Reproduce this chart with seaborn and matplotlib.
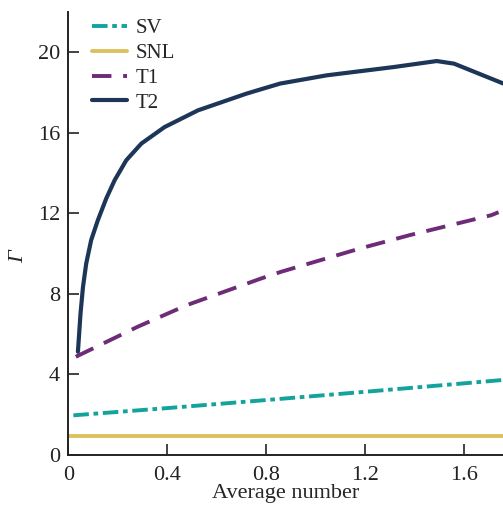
import matplotlib
matplotlib.use("Agg")
import matplotlib.pyplot as plt
import seaborn as sns

# values
sv_x = [0.02, 0.4, 0.8, 1.2, 1.6, 1.76]
sv_y = [1.97, 2.33, 2.73, 3.14, 3.56, 3.73]

snl_x = [0.0, 1.76]
snl_y = [0.93, 0.93]

t1_x = [0.03, 0.28, 0.48, 0.78, 0.86, 1.18, 1.38, 1.71, 1.74]
t1_y = [4.88, 6.37, 7.45, 8.77, 9.1, 10.26, 10.92, 11.91, 12.06]

t2_x = [0.0385, 0.049, 0.059, 0.072, 0.092, 0.119, 0.153, 0.187, 0.234,
        0.295, 0.389, 0.524, 0.72, 0.856, 1.045, 1.315, 1.49, 1.56, 1.76]
t2_y = [5.13, 7.03, 8.35, 9.51, 10.67, 11.66, 12.74, 13.65, 14.64,
        15.47, 16.29, 17.12, 17.95, 18.45, 18.86, 19.27, 19.57, 19.44, 18.45]

sns.set_style("ticks")
plt.rcParams['font.family'] = ['Liberation Serif', 'DejaVu Serif']

fig = plt.figure(figsize=(5.03, 5.05), dpi=100)
ax = fig.add_axes([0.136, 0.099, 0.864, 0.877])

sns.lineplot(x=sv_x, y=sv_y, ax=ax, color='#14a39c', lw=2.8, label='SV',
             linestyle=(0, (4, 1.2, 1.2, 1.2)))
sns.lineplot(x=snl_x, y=snl_y, ax=ax, color='#dcc25e', lw=2.8, label='SNL')
sns.lineplot(x=t1_x, y=t1_y, ax=ax, color='#6e2b78', lw=2.8, label='T1',
             linestyle=(0, (5, 3)))
sns.lineplot(x=t2_x, y=t2_y, ax=ax, color='#1d3658', lw=3.0, label='T2')

ax.set_xlim(0, 1.758)
ax.set_ylim(0, 22)
ax.set_xticks([0, 0.4, 0.8, 1.2, 1.6])
ax.set_xticklabels(['0', '0.4', '0.8', '1.2', '1.6'])
ax.set_yticks([0, 4, 8, 12, 16, 20])
ax.tick_params(direction='in', length=8, width=1.2, labelsize=16,
               colors='#222222')
ax.tick_params(axis='x', pad=8)
ax.tick_params(axis='y', pad=6)
ax.set_xlabel('Average number', fontsize=16, labelpad=-1)
ax.set_ylabel('Γ', fontsize=16, style='italic')
ax.yaxis.set_label_coords(-0.093, 0.447)
for s in ['top', 'right']:
    ax.spines[s].set_visible(False)
for s in ['left', 'bottom']:
    ax.spines[s].set_linewidth(1.4)
    ax.spines[s].set_color('#222222')

ax.legend(loc='upper left', bbox_to_anchor=(0.035, 1.004), frameon=False,
          fontsize=15, handlelength=1.7, handletextpad=0.4,
          labelspacing=0.25, borderaxespad=0)

fig.savefig('out.png', dpi=100)
